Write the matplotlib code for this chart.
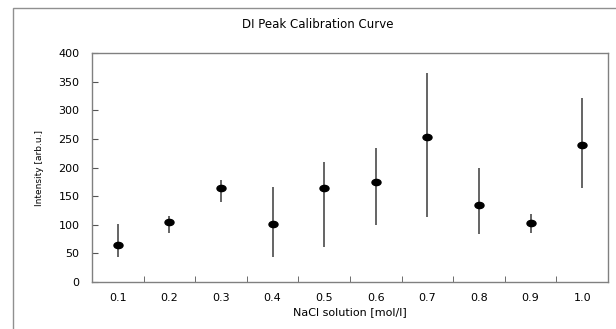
import numpy as np
import matplotlib
matplotlib.use("Agg")
import matplotlib.pyplot as plt
from matplotlib.path import Path
from matplotlib.patches import Rectangle

plt.rcParams['font.family'] = ['DejaVu Sans']

# NaCl concentrations (categories) and measured intensities
concentrations = ["0.1", "0.2", "0.3", "0.4", "0.5", "0.6", "0.7", "0.8", "0.9", "1.0"]
intensity = [65, 104, 165, 102, 165, 175, 253, 134, 103, 240]
err_low = [44, 86, 140, 44, 62, 100, 114, 83, 85, 164]
err_high = [101, 116, 179, 166, 209, 234, 365, 200, 118, 322]

# flattened ellipse marker like the original
circle = Path.unit_circle()
ellipse = Path(circle.vertices * np.array([1.45, 1.0]), circle.codes)

fig = plt.figure(figsize=(6.16, 3.29), dpi=100)
ax = fig.add_axes([92 / 616, 1 - 282 / 329, 516 / 616, 229 / 329])

# outer chart frame (right and bottom edges fall outside the image)
fig.patches.append(Rectangle((13 / 616, -0.1), 1.2, 1.1 - 8 / 329,
                             transform=fig.transFigure, fill=False,
                             edgecolor="#909090", linewidth=1.0))

x = np.arange(len(concentrations))
y = np.array(intensity)
yerr = [y - np.array(err_low), np.array(err_high) - y]

ax.errorbar(x, y, yerr=yerr, fmt="none", ecolor="#3a3a3a", elinewidth=1.1, capsize=0)
ax.plot(x, y, linestyle="none", marker=ellipse, markersize=6.5, color="black")

ax.set_xlim(-0.5, len(concentrations) - 0.5)
ax.set_ylim(0, 400)
ax.set_yticks(range(0, 401, 50))

ax.set_xticks(x)
ax.set_xticklabels(concentrations)
ax.set_xticks(np.arange(-0.5, len(concentrations)), minor=True)
ax.tick_params(axis="x", which="major", length=0, pad=8, labelsize=8)
ax.tick_params(axis="x", which="minor", direction="in", length=4, color="#555555")
ax.tick_params(axis="y", direction="in", length=4, color="#555555", pad=9, labelsize=8)

for s in ax.spines.values():
    s.set_color("#808080")
    s.set_linewidth(1.0)

ax.set_xlabel("NaCl solution [mol/l]", fontsize=8, labelpad=3)
ax.set_ylabel("Intensity [arb.u.]", fontsize=6.5, labelpad=10)
fig.text(0.516, 1 - 25 / 329, "DI Peak Calibration Curve", ha="center", va="center", fontsize=8.5)

fig.savefig("out.png", dpi=100)
